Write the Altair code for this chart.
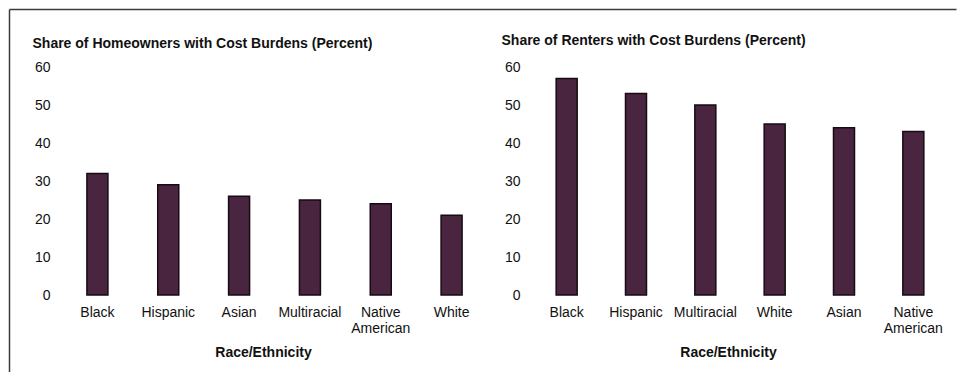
import altair as alt
import pandas as pd

# ---- data ----
owner_cats = ["Black", "Hispanic", "Asian", "Multiracial", "Native American", "White"]
owner_vals = [32, 29, 26, 25, 24, 21]

renter_cats = ["Black", "Hispanic", "Multiracial", "White", "Asian", "Native American"]
renter_vals = [57, 53, 50, 45, 44, 43]

y_ticks = [0, 10, 20, 30, 40, 50, 60]

owner_title = "Share of Homeowners with Cost Burdens (Percent)"
renter_title = "Share of Renters with Cost Burdens (Percent)"
x_title = "Race/Ethnicity"

FONT = "Liberation Sans"
BAR_FILL = "#4a2540"
BAR_STROKE = "#170a13"
FRAME = "#3c3c3c"
TXT = "#111111"

H = 228


def panel(cats, vals, title, width, title_dx, title_y, xtitle_x, frame):
    df = pd.DataFrame({"group": cats, "share": vals})
    bars = alt.Chart(df).mark_bar(
        width=21, color=BAR_FILL, stroke=BAR_STROKE, strokeWidth=1.5
    ).encode(
        x=alt.X(
            "group:N",
            sort=cats,
            scale=alt.Scale(paddingInner=0, paddingOuter=0),
            axis=alt.Axis(
                title=x_title,
                labelAngle=0,
                labelPadding=10,
                ticks=False,
                tickSize=0,
                domain=False,
                labelOverlap=False,
                labelExpr="datum.label == 'Native American' ? ['Native', 'American'] : datum.label",
                labelLineHeight=16,
                titleX=xtitle_x,
                titleY=57,
                titleAlign="center",
                titleBaseline="middle",
            ),
        ),
        y=alt.Y(
            "share:Q",
            scale=alt.Scale(domain=[0, 60]),
            axis=alt.Axis(
                values=y_ticks,
                title=title,
                titleAngle=0,
                titleAlign="left",
                titleX=title_dx,
                titleY=title_y,
                titleBaseline="middle",
                grid=False,
                domain=False,
                ticks=False,
                tickSize=0,
                labelPadding=12,
            ),
        ),
    )
    layers = [bars]
    one = pd.DataFrame({"f": [0]})
    for (x1, x2, y1, y2) in frame:
        enc = {"x": alt.value(x1), "y": alt.value(y1)}
        if x2 is not None:
            enc["x2"] = alt.value(x2)
        if y2 is not None:
            enc["y2"] = alt.value(y2)
        layers.append(
            alt.Chart(one).mark_rule(color=FRAME, strokeWidth=1.5).encode(**enc)
        )
    return alt.layer(*layers).properties(width=width, height=H)


left = panel(
    owner_cats, owner_vals, owner_title, 425,
    title_dx=-30, title_y=-24, xtitle_x=201,
    frame=[(-52.5, None, -57.5, 305), (-52.5, 894.5, -57.5, None)],
)
right = panel(
    renter_cats, renter_vals, renter_title, 416,
    title_dx=-31, title_y=-27, xtitle_x=196,
    frame=[],
)

chart = alt.hconcat(left, right, spacing=45, bounds="flush").configure(
    padding=0,
    background="white",
).configure_view(stroke=None).configure_axis(
    labelFont=FONT,
    labelFontSize=14,
    labelColor=TXT,
    titleFont=FONT,
    titleFontSize=14,
    titleFontWeight="bold",
    titleColor=TXT,
)

chart.save("out.html", embed_options={"renderer": "svg", "actions": False})
